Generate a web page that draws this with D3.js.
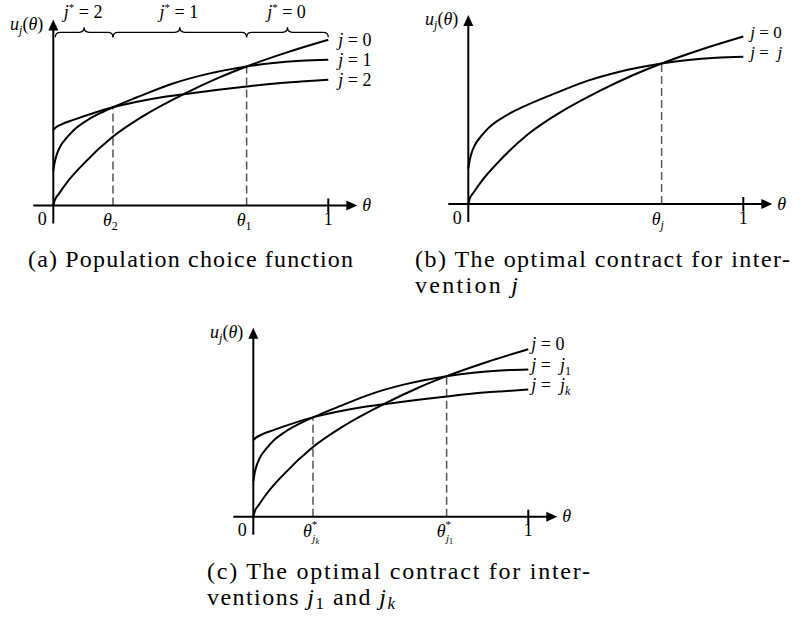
<!DOCTYPE html>
<html>
<head>
<meta charset="utf-8">
<script src="https://cdn.jsdelivr.net/npm/d3@7"></script>
<style>
  body { margin: 0; background: #fff; }
  svg { display: block; }
  text { fill: #000; white-space: pre; }
</style>
</head>
<body>
<svg id="fig" width="802" height="628"></svg>
<script>
// Utility u_j(θ) of each intervention, sampled as (θ, u) pairs.
const thetaJ0 = [0, 0.005, 0.02, 0.05, 0.109, 0.217, 0.33, 0.474, 0.6, 0.703, 0.85, 1.0];
const uJ0     = [0, 0.03, 0.07, 0.14, 0.25, 0.416, 0.543, 0.672, 0.77, 0.839, 0.924, 1.0];

const thetaJ1 = [0, 0.005, 0.012, 0.024, 0.049, 0.073, 0.122, 0.17, 0.217, 0.3, 0.438, 0.55, 0.703, 0.8, 0.9, 1.0];
const uJ1     = [0.211, 0.26, 0.305, 0.352, 0.409, 0.453, 0.513, 0.557, 0.593, 0.65, 0.738, 0.79, 0.839, 0.86, 0.873, 0.879];

const thetaJ2 = [0, 0.01, 0.03, 0.073, 0.15, 0.217, 0.3, 0.4, 0.474, 0.6, 0.703, 0.8, 0.9, 1.0];
const uJ2     = [0.457, 0.472, 0.49, 0.517, 0.56, 0.593, 0.625, 0.655, 0.672, 0.698, 0.718, 0.735, 0.748, 0.759];

// Thresholds where the best intervention switches (curve crossings).
const cutTheta = [0.217, 0.703];
const cutU     = [0.593, 0.839];

// Ranges of θ over which each j* is chosen.
const choiceBounds = [0, 0.217, 0.703, 1];
const choiceLabels = ["2", "1", "0"];

const FONT = "'Liberation Serif', Tinos, 'Times New Roman', 'DejaVu Serif', serif";
const svg = d3.select("#fig");

// Text with mixed italic / sub / superscript runs.
function rich(x, y, parts, opts = {}) {
  const size = opts.size || 18;
  const t = svg.append("text")
    .attr("x", x).attr("y", y)
    .attr("font-family", FONT)
    .attr("font-size", size)
    .attr("text-anchor", opts.anchor || "start")
    .attr("xml:space", "preserve");
  if (opts.length) t.attr("textLength", opts.length).attr("lengthAdjust", "spacing");
  let cur = 0;
  parts.forEach(p => {
    const off = p.dy || 0;
    const s = t.append("tspan")
      .attr("dy", off - cur)
      .attr("font-style", p.it ? "italic" : "normal")
      .attr("font-size", p.fs || size)
      .text(p.t);
    if (p.dx) s.attr("dx", p.dx);
    cur = off;
  });
  return t;
}

const uLabel = [
  { t: "u", it: true },
  { t: "j", it: true, fs: 12, dy: 4 },
  { t: "(", dy: 0 },
  { t: "θ", it: true },
  { t: ")" }
];
const eqLabel = rhs => [{ t: "j", it: true }, { t: " = " }].concat(rhs);

function drawPanel(cfg) {
  const x = d3.scaleLinear().domain([0, 1]).range([cfg.x0, cfg.x0 + 275]);
  const y = d3.scaleLinear().domain([0, 1]).range([cfg.y0, cfg.y0 - cfg.h]);
  const g = svg.append("g");

  // dashed guides from each crossing down to the θ axis
  cfg.cuts.forEach(i => {
    g.append("line")
      .attr("x1", x(cutTheta[i])).attr("x2", x(cutTheta[i]))
      .attr("y1", y(0)).attr("y2", y(cutU[i]))
      .attr("stroke", "#555").attr("stroke-width", 1.5)
      .attr("stroke-dasharray", "8,4");
  });

  // utility curves
  const line = d3.line().x(d => x(d[0])).y(d => y(d[1])).curve(d3.curveMonotoneX);
  cfg.curves.forEach(c => {
    g.append("path")
      .attr("d", line(d3.zip(c[0], c[1])))
      .attr("fill", "none").attr("stroke", "#000").attr("stroke-width", 2);
  });

  // axes with arrowheads
  const ox = x(0), oy = y(0);
  const xTip = ox + 304, yTip = oy - cfg.tip;
  g.append("line").attr("x1", ox - 20).attr("x2", xTip - 8).attr("y1", oy).attr("y2", oy)
    .attr("stroke", "#000").attr("stroke-width", 2);
  g.append("path").attr("d", `M${xTip},${oy} L${xTip - 11},${oy - 5} L${xTip - 11},${oy + 5} Z`).attr("fill", "#000");
  g.append("line").attr("x1", ox).attr("x2", ox).attr("y1", oy + 18).attr("y2", yTip + 8)
    .attr("stroke", "#000").attr("stroke-width", 2);
  g.append("path").attr("d", `M${ox},${yTip} L${ox - 5},${yTip + 11} L${ox + 5},${yTip + 11} Z`).attr("fill", "#000");

  // tick at θ = 1
  g.append("line").attr("x1", x(1)).attr("x2", x(1)).attr("y1", oy - 7).attr("y2", oy + 7)
    .attr("stroke", "#000").attr("stroke-width", 2);

  rich(ox - 11, oy + 19.5, [{ t: "0" }], { anchor: "middle" });
  rich(x(1), oy + 19.5, [{ t: "1" }], { anchor: "middle" });
  rich(ox + 309, oy + 5.5, [{ t: "θ", it: true }]);
  rich(ox - 10, yTip + 10, uLabel, { anchor: "end" });

  cfg.cutLabels.forEach((parts, k) => {
    rich(x(cutTheta[cfg.cuts[k]]) - 10, oy + 20.5, parts);
  });
  cfg.curveLabels.forEach(l => rich(x(1) + l.dx, l.y, l.parts, { size: l.size || 18 }));
  return { x, y };
}

// (a) all three interventions
const pa = drawPanel({
  x0: 53.3, y0: 205.5, h: 165.7, tip: 186,
  curves: [[thetaJ0, uJ0], [thetaJ1, uJ1], [thetaJ2, uJ2]],
  cuts: [0, 1],
  cutLabels: [
    [{ t: "θ", it: true }, { t: "2", fs: 12, dy: 4 }],
    [{ t: "θ", it: true }, { t: "1", fs: 12, dy: 4 }]
  ],
  curveLabels: [
    { dx: 10, y: 46, parts: eqLabel([{ t: "0" }]) },
    { dx: 10, y: 66, parts: eqLabel([{ t: "1" }]) },
    { dx: 10, y: 86, parts: eqLabel([{ t: "2" }]) }
  ]
});

// braces marking the region of each optimal choice j*
const braceY = 32.3;
for (let i = 0; i < choiceLabels.length; i++) {
  const xa = pa.x(choiceBounds[i]) + (i === 0 ? 2 : 0), xb = pa.x(choiceBounds[i + 1]);
  const xm = (xa + xb) / 2, r = 5;
  svg.append("path")
    .attr("d", `M${xa},${braceY + 5} Q${xa},${braceY} ${xa + r},${braceY} L${xm - r},${braceY} ` +
               `Q${xm},${braceY} ${xm},${braceY - 5} Q${xm},${braceY} ${xm + r},${braceY} ` +
               `L${xb - r},${braceY} Q${xb},${braceY} ${xb},${braceY + 5}`)
    .attr("fill", "none").attr("stroke", "#000").attr("stroke-width", 1.3);
  rich(xm - 1, 18, [
    { t: "j", it: true }, { t: "*", fs: 11, dy: -7 }, { t: " = ", dy: 0 }, { t: choiceLabels[i] }
  ], { anchor: "middle" });
}

// (b) a single intervention against the status quo
drawPanel({
  x0: 468.3, y0: 204, h: 167.5, tip: 189,
  curves: [[thetaJ0, uJ0], [thetaJ1, uJ1]],
  cuts: [1],
  cutLabels: [
    [{ t: "θ", it: true }, { t: "j", it: true, fs: 12, dy: 4 }]
  ],
  curveLabels: [
    { dx: 7, y: 38, size: 17, parts: eqLabel([{ t: "0" }]) },
    { dx: 7, y: 58, size: 17, parts: eqLabel([{ t: " " }, { t: "j", it: true }]) }
  ]
});

// (c) two interventions j1 and jk
drawPanel({
  x0: 253.3, y0: 516.7, h: 167.5, tip: 189,
  curves: [[thetaJ0, uJ0], [thetaJ1, uJ1], [thetaJ2, uJ2]],
  cuts: [0, 1],
  cutLabels: [
    [{ t: "θ", it: true }, { t: "*", fs: 11, dy: -9 }, { t: "j", it: true, fs: 11, dy: 5, dx: -5 }, { t: "k", it: true, fs: 8, dy: 7 }],
    [{ t: "θ", it: true }, { t: "*", fs: 11, dy: -9 }, { t: "j", it: true, fs: 11, dy: 5, dx: -5 }, { t: "1", fs: 8, dy: 7 }]
  ],
  curveLabels: [
    { dx: 3, y: 350, parts: eqLabel([{ t: "0" }]) },
    { dx: 3, y: 371, parts: eqLabel([{ t: " " }, { t: "j", it: true }, { t: "1", fs: 12, dy: 4 }]) },
    { dx: 3, y: 391, parts: eqLabel([{ t: " " }, { t: "j", it: true }, { t: "k", it: true, fs: 12, dy: 4 }]) }
  ]
});

// sub-figure captions
const cap = 24;
rich(28, 267, [{ t: "(a) Population choice function" }], { size: cap, length: 325 });
rich(415, 267, [{ t: "(b) The optimal contract for inter-" }], { size: cap, length: 375 });
rich(415, 293, [{ t: "vention " }, { t: "j", it: true }], { size: cap, length: 103 });
rich(207, 579, [{ t: "(c) The optimal contract for inter-" }], { size: cap, length: 383 });
rich(207, 605, [
  { t: "ventions " }, { t: "j", it: true }, { t: "1", fs: 17, dy: 4 },
  { t: " and ", dy: 0 }, { t: "j", it: true }, { t: "k", it: true, fs: 17, dy: 4 }
], { size: cap, length: 188 });
</script>
</body>
</html>
